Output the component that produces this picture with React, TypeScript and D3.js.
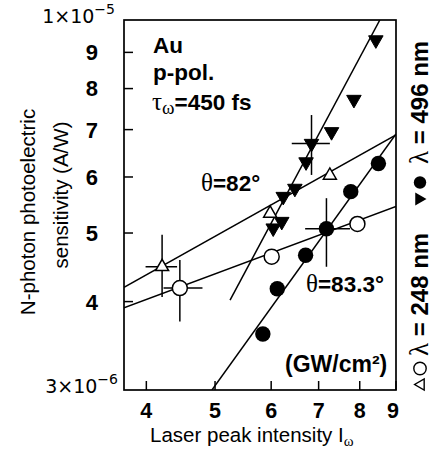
import React from 'react';
import * as d3 from 'd3';

const xTicks = [4, 5, 6, 7, 8, 9];
const yTicks = [4e-6, 5e-6, 6e-6, 7e-6, 8e-6, 9e-6];
const yTickLabels = ['4', '5', '6', '7', '8', '9'];

// 496 nm, theta = 82 deg
const filledTriangles: [number, number][] = [
  [8.43, 9.37e-6], [7.85, 7.72e-6], [7.3, 6.95e-6], [6.84, 6.69e-6], [6.72, 6.3e-6],
  [6.48, 5.78e-6], [6.24, 5.63e-6], [6.21, 5.19e-6], [6.04, 5.08e-6],
];
// 248 nm, theta = 82 deg
const openTriangles: [number, number][] = [[4.21, 4.48e-6], [5.98, 5.33e-6], [7.26, 6.03e-6]];
// 248 nm, theta = 83.3 deg
const openCircles: [number, number][] = [[4.46, 4.18e-6], [6.01, 4.63e-6], [7.94, 5.15e-6]];
// 496 nm, theta = 83.3 deg
const filledCircles: [number, number][] = [
  [5.84, 3.6e-6], [6.12, 4.17e-6], [6.71, 4.65e-6], [7.18, 5.07e-6], [7.77, 5.72e-6], [8.5, 6.27e-6],
];

// error bars: [x, y, xLow, xHigh, yLow, yHigh]
const errorBars: number[][] = [
  [4.21, 4.48e-6, 3.99, 4.42, 4.06e-6, 4.97e-6],
  [4.46, 4.18e-6, 4.23, 4.8, 3.75e-6, 4.58e-6],
  [6.84, 6.69e-6, 6.415, 7.26, 6.04e-6, 7.34e-6],
  [7.18, 5.07e-6, 6.7, 7.75, 4.48e-6, 5.6e-6],
];

const fitFilledTriangles: [number, number][] = [[5.25, 4.02e-6], [8.54, 1e-5]];
const fitOpenTriangles: [number, number][] = [[3.72, 4.19e-6], [9, 6.88e-6]];
const fitOpenCircles: [number, number][] = [[3.72, 3.92e-6], [9, 5.45e-6]];
const fitFilledCircles: [number, number][] = [[4.95, 3e-6], [9, 6.9e-6]];

const W = 438, H = 454;
const L = 124, R = 396, T = 20, B = 390;

const SANS = 'Liberation Sans, Arial, sans-serif';
const SERIF = 'Liberation Serif, Times New Roman, serif';
const MATH = 'DejaVu Sans, sans-serif';

function triDown(cx: number, cy: number, s: number) {
  const h = s * 0.866;
  return `M${cx - s / 2},${cy - h / 3}L${cx + s / 2},${cy - h / 3}L${cx},${cy + (2 * h) / 3}Z`;
}
function triUp(cx: number, cy: number, s: number) {
  const h = s * 0.866;
  return `M${cx - s / 2},${cy + h / 3}L${cx + s / 2},${cy + h / 3}L${cx},${cy - (2 * h) / 3}Z`;
}

export default function App() {
  const x = d3.scaleLog().domain([3.72, 9]).range([L, R]);
  const y = d3.scaleLog().domain([3e-6, 1e-5]).range([B, T]);
  const line = d3.line<[number, number]>().x(d => x(d[0])).y(d => y(d[1]));
  const lw = 1.5;

  return (
    <svg width={W} height={H} style={{ position: 'absolute', left: 0, top: 0, background: '#fff' }}>
      <rect x={0} y={0} width={W} height={H} fill="#fff" />
      <defs>
        <clipPath id="plot"><rect x={L} y={T} width={R - L} height={B - T} /></clipPath>
      </defs>

      {/* fit lines */}
      <g clipPath="url(#plot)" fill="none" stroke="#000" strokeWidth={lw}>
        <path d={line(fitFilledTriangles) || ''} />
        <path d={line(fitOpenTriangles) || ''} />
        <path d={line(fitOpenCircles) || ''} />
        <path d={line(fitFilledCircles) || ''} />
      </g>

      {/* error bars */}
      <g stroke="#000" strokeWidth={lw}>
        {errorBars.map((e, i) => (
          <g key={i}>
            <line x1={x(e[2])} x2={x(e[3])} y1={y(e[1])} y2={y(e[1])} />
            <line x1={x(e[0])} x2={x(e[0])} y1={y(e[4])} y2={y(e[5])} />
          </g>
        ))}
      </g>

      {/* markers */}
      {filledTriangles.map((d, i) => (
        <path key={'ft' + i} d={triDown(x(d[0]), y(d[1]), 14.5)} fill="#000" stroke="#000" strokeWidth={1} />
      ))}
      {openTriangles.map((d, i) => (
        <path key={'ot' + i} d={triUp(x(d[0]), y(d[1]), 13)} fill="#fff" stroke="#000" strokeWidth={lw} />
      ))}
      {openCircles.map((d, i) => (
        <circle key={'oc' + i} cx={x(d[0])} cy={y(d[1])} r={7.5} fill="#fff" stroke="#000" strokeWidth={lw} />
      ))}
      {filledCircles.map((d, i) => (
        <circle key={'fc' + i} cx={x(d[0])} cy={y(d[1])} r={7.7} fill="#000" />
      ))}

      {/* frame */}
      <rect x={L} y={T} width={R - L} height={B - T} fill="none" stroke="#000" strokeWidth={1.7} />

      {/* x ticks */}
      {xTicks.map(t => (
        <g key={'xt' + t}>
          <line x1={x(t)} x2={x(t)} y1={B} y2={B - 9} stroke="#000" strokeWidth={1.5} />
          <text x={x(t) - (t === 9 ? 3 : 0)} y={418} textAnchor="middle" fontFamily={SANS} fontWeight="bold" fontSize={21.5}>{t}</text>
        </g>
      ))}

      {/* y ticks */}
      {yTicks.map((t, i) => (
        <g key={'yt' + t}>
          <line x1={L} x2={L + 9} y1={y(t)} y2={y(t)} stroke="#000" strokeWidth={1.5} />
          <text x={98} y={y(t)} dy="0.36em" textAnchor="end" fontFamily={SANS} fontWeight="bold" fontSize={22}>{yTickLabels[i]}</text>
        </g>
      ))}
      <text x={115} y={23} textAnchor="end" fontFamily={MATH} fontSize={19}>
        1×10<tspan dy={-9} fontSize={14}>−5</tspan>
      </text>
      <text x={118} y={393} textAnchor="end" fontFamily={MATH} fontSize={19}>
        3×10<tspan dy={-9} fontSize={14}>−6</tspan>
      </text>

      {/* axis titles */}
      <text transform="translate(35,212) rotate(-90)" textAnchor="middle" fontFamily={SANS} fontSize={20.5}>N-photon photoelectric</text>
      <text transform="translate(68,195) rotate(-90)" textAnchor="middle" fontFamily={SANS} fontSize={20.5}>sensitivity (A/W)</text>
      <text x={150} y={442} fontFamily={SANS} fontSize={20.5}>
        Laser peak intensity I<tspan dy={4} fontFamily={SERIF} fontSize={15}>ω</tspan>
      </text>

      {/* annotations */}
      <g fontFamily={SANS} fontWeight="bold" fontSize={22.5}>
        <text x={153} y={53}>Au</text>
        <text x={153} y={80}>p-pol.</text>
        <text x={152} y={110}>
          <tspan fontFamily={SERIF} fontWeight="normal" fontSize={25}>τ</tspan>
          <tspan fontFamily={SERIF} fontWeight="normal" fontSize={19} dy={4}>ω</tspan>
          <tspan dy={-4}>=450 fs</tspan>
        </text>
        <text x={201} y={191}>
          <tspan fontFamily={SERIF} fontWeight="normal" fontSize={25}>θ</tspan>=82°
        </text>
        <text x={306} y={292}>
          <tspan fontFamily={SERIF} fontWeight="normal" fontSize={25}>θ</tspan>=83.3°
        </text>
        <text x={285} y={372} fontSize={23}>(GW/cm²)</text>
      </g>

      {/* rotated legend */}
      <g transform="translate(428,390) rotate(-90)">
        <path d={triUp(5.5, -7, 11)} fill="#fff" stroke="#000" strokeWidth={1.4} />
        <circle cx={21.5} cy={-8} r={6.2} fill="#fff" stroke="#000" strokeWidth={1.4} />
        <text x={34} y={0} fontFamily={SANS} fontWeight="bold" fontSize={24}>
          <tspan fontFamily={SERIF} fontWeight="normal" fontSize={27}>λ</tspan> = 248 nm
        </text>
      </g>
      <g transform="translate(428,206) rotate(-90)">
        <path d={triDown(7, -9, 13)} fill="#000" />
        <circle cx={23.5} cy={-8} r={6.2} fill="#000" />
        <text x={42} y={0} fontFamily={SANS} fontWeight="bold" fontSize={24}>
          <tspan fontFamily={SERIF} fontWeight="normal" fontSize={27}>λ</tspan> = 496 nm
        </text>
      </g>
    </svg>
  );
}
